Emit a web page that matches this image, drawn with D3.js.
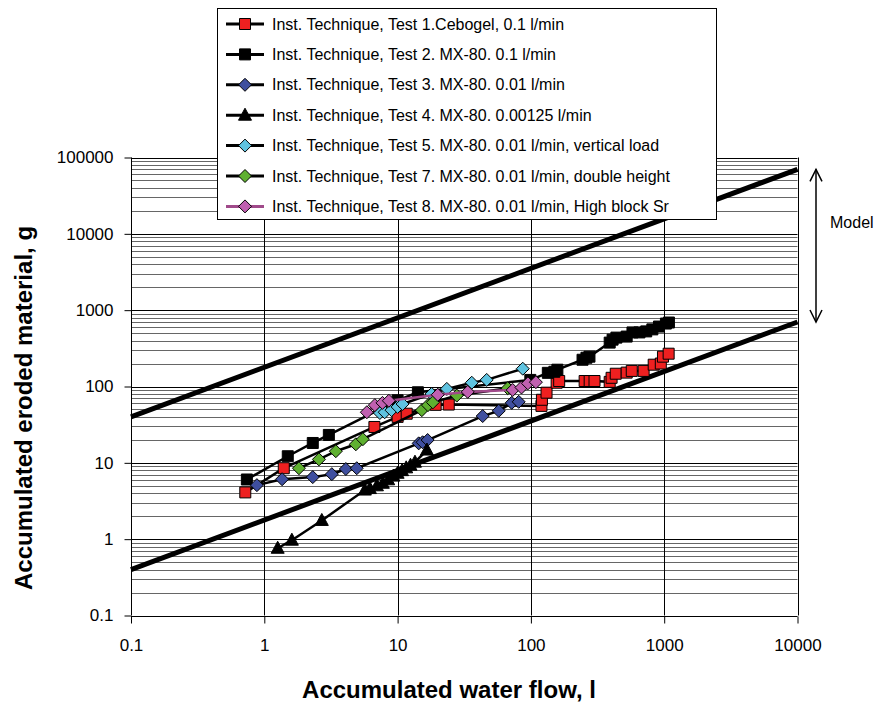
<!DOCTYPE html>
<html>
<head>
<meta charset="utf-8">
<script src="https://cdn.jsdelivr.net/npm/d3@7"></script>
<style>
body { margin: 0; background: #fff; }
text { font-family: "Liberation Sans", Arial, sans-serif; }
</style>
</head>
<body>
<div id="chart"></div>
<script>
// data
var xTicks = [0.1, 1, 10, 100, 1000, 10000];
var yTicks = [0.1, 1, 10, 100, 1000, 10000, 100000];

var modelX = [0.1, 10000];
var modelUpper = [40, 70000];
var modelLower = [0.4, 700];

var t1x = [0.72, 1.4, 6.7, 10, 11.7, 19.3, 24.2, 120, 121, 131, 156, 163, 253, 276, 300, 390, 403, 433, 523, 571, 701, 834, 943, 979, 1080];
var t1y = [4.1, 8.5, 29.5, 40, 44, 57.5, 58, 55.7, 67, 83, 112, 118, 118, 118, 118, 115, 130, 147, 152, 160, 160, 193, 200, 246, 269];

var t2x = [0.74, 1.5, 2.31, 3.05, 10, 14.2, 99, 134, 150, 158, 244, 261, 275, 390, 410, 438, 523, 578, 652, 733, 815, 914, 1030, 1085];
var t2y = [6.05, 12.2, 18.2, 23.2, 66, 84, 122, 151, 156, 166, 224, 238, 246, 376, 411, 437, 451, 511, 511, 527, 560, 610, 668, 689];

var t3x = [0.88, 1.36, 2.31, 3.21, 4.09, 4.94, 14.4, 15.4, 16.8, 43.5, 57.4, 71.8, 81];
var t3y = [5.1, 6.1, 6.5, 7.1, 8.3, 8.5, 18, 18.6, 19.9, 41, 48, 61, 63];

var t4x = [1.26, 1.61, 2.7, 5.68, 6.2, 7.0, 7.75, 8.5, 9.3, 10, 10.8, 11.6, 12.5, 13.5, 16.6];
var t4y = [0.76, 0.97, 1.76, 4.4, 4.6, 5.0, 5.4, 6.0, 6.7, 7.3, 7.9, 8.6, 9.3, 10.2, 14.7];

var t5x = [7.36, 8, 9, 10, 10.9, 18, 23.4, 36, 46.6, 86.9];
var t5y = [45, 46, 49, 54, 59, 80, 93, 112, 122, 171];

var t7x = [1.82, 2.57, 3.44, 4.86, 5.49, 15.2, 16.9, 18.4, 27.8, 67];
var t7y = [8.5, 11.1, 14.2, 17.5, 20.4, 49, 57, 62, 76, 95];

var t8x = [5.88, 6.75, 7.7, 8.6, 20, 33.6, 73, 85, 95, 109];
var t8y = [46, 57, 61, 65, 78, 85, 90, 97, 110, 114];

var seriesNames = [
    "Inst. Technique, Test 1.Cebogel, 0.1 l/min",
    "Inst. Technique, Test 2. MX-80. 0.1 l/min",
    "Inst. Technique, Test 3. MX-80. 0.01 l/min",
    "Inst. Technique, Test 4. MX-80. 0.00125 l/min",
    "Inst. Technique, Test 5. MX-80. 0.01 l/min, vertical load",
    "Inst. Technique, Test 7. MX-80. 0.01 l/min, double height",
    "Inst. Technique, Test 8. MX-80. 0.01 l/min, High block Sr"
];

var series = [
    {x: t1x, y: t1y, shape: 'square', fill: '#ee2020', line: '#000'},
    {x: t2x, y: t2y, shape: 'square', fill: '#000', line: '#000'},
    {x: t3x, y: t3y, shape: 'diamond', fill: '#3f4f9f', line: '#000'},
    {x: t4x, y: t4y, shape: 'triangle', fill: '#000', line: '#000'},
    {x: t5x, y: t5y, shape: 'diamond', fill: '#5fc3e0', line: '#000'},
    {x: t7x, y: t7y, shape: 'diamond', fill: '#5fb030', line: '#000'},
    {x: t8x, y: t8y, shape: 'diamond', fill: '#c060b0', line: '#a04a8a'}
];

var W = 879, H = 702;
var svg = d3.select("#chart").append("svg").attr("width", W).attr("height", H);

var xScale = d3.scaleLog().domain([0.1, 10000]).range([131, 797.5]);
var yScale = d3.scaleLog().domain([0.1, 100000]).range([615.5, 157.5]);

// **** grid ****
var minorY = [];
yTicks.slice(0, -1).forEach(function(d){
    for (var k = 2; k <= 9; k++) minorY.push(d * k);
});

var grid = svg.append('g');
grid.selectAll('.minor').data(minorY).enter().append('line')
    .attr('x1', xScale(0.1)).attr('x2', xScale(10000))
    .attr('y1', function(d){ return Math.round(yScale(d)) + 0.5; })
    .attr('y2', function(d){ return Math.round(yScale(d)) + 0.5; })
    .attr('stroke', '#666').attr('stroke-width', 1);

grid.selectAll('.major').data(yTicks).enter().append('line')
    .attr('x1', xScale(0.1)).attr('x2', xScale(10000))
    .attr('y1', function(d){ return Math.round(yScale(d)) + 0.5; })
    .attr('y2', function(d){ return Math.round(yScale(d)) + 0.5; })
    .attr('stroke', '#000').attr('stroke-width', 1);

grid.selectAll('.vmajor').data(xTicks).enter().append('line')
    .attr('x1', function(d){ return Math.round(xScale(d)) + 0.5; })
    .attr('x2', function(d){ return Math.round(xScale(d)) + 0.5; })
    .attr('y1', yScale(100000)).attr('y2', yScale(0.1))
    .attr('stroke', '#000').attr('stroke-width', 1);

// **** axes ****
svg.append('g')
    .attr('transform', 'translate(0,' + (Math.round(yScale(0.1)) + 0.5) + ')')
    .call(d3.axisBottom(xScale).tickValues(xTicks).tickSize(7).tickPadding(15)
        .tickFormat(function(d){ return String(d); }))
    .call(function(g){
        g.select('.domain').remove();
        g.selectAll('text').attr('font-size', 17).attr('font-family', '"Liberation Sans", Arial, sans-serif').attr('fill', '#000');
    });

svg.append('g')
    .attr('transform', 'translate(' + (Math.round(xScale(0.1)) + 0.5) + ',0)')
    .call(d3.axisLeft(yScale).tickValues(yTicks).tickSize(7).tickPadding(11)
        .tickFormat(function(d){ return String(d); }))
    .call(function(g){
        g.select('.domain').remove();
        g.selectAll('text').attr('font-size', 17).attr('font-family', '"Liberation Sans", Arial, sans-serif').attr('fill', '#000');
    });

svg.append('text')
    .attr('transform', 'translate(32,408) rotate(-90)')
    .attr('text-anchor', 'middle')
    .attr('font-size', 24).attr('font-weight', 'bold')
    .text('Accumulated eroded material, g');

svg.append('text')
    .attr('x', 449).attr('y', 698)
    .attr('text-anchor', 'middle')
    .attr('font-size', 24).attr('font-weight', 'bold')
    .text('Accumulated water flow, l');

// **** model lines ****
var modelLine = d3.line()
    .x(function(d){ return xScale(d[0]); })
    .y(function(d){ return yScale(d[1]); });

[modelUpper, modelLower].forEach(function(m){
    svg.append('path')
        .attr('d', modelLine(d3.zip(modelX, m)))
        .attr('fill', 'none').attr('stroke', '#000').attr('stroke-width', 5);
});

// **** series ****
function markerPath(shape) {
    if (shape == 'square') return 'M-5.5,-5.5H5.5V5.5H-5.5Z';
    if (shape == 'diamond') return 'M0,-6.5L6.5,0L0,6.5L-6.5,0Z';
    return 'M0,-7L6.5,5L-6.5,5Z';
}

var dataLine = d3.line()
    .x(function(d){ return xScale(d[0]); })
    .y(function(d){ return yScale(d[1]); });

series.forEach(function(s){
    var pts = d3.zip(s.x, s.y);
    var g = svg.append('g');
    g.append('path')
        .attr('d', dataLine(pts))
        .attr('fill', 'none').attr('stroke', s.line).attr('stroke-width', 2.5);
    g.selectAll('path.mk').data(pts).enter().append('path')
        .attr('class', 'mk')
        .attr('d', markerPath(s.shape))
        .attr('transform', function(d){ return 'translate(' + xScale(d[0]) + ',' + yScale(d[1]) + ')'; })
        .attr('fill', s.fill)
        .attr('stroke', '#000').attr('stroke-width', 1);
});

// **** legend ****
var legend = svg.append('g');
legend.append('rect')
    .attr('x', 217.5).attr('y', 8.5)
    .attr('width', 499).attr('height', 211)
    .attr('fill', '#fff').attr('stroke', '#000').attr('stroke-width', 1);

seriesNames.forEach(function(name, i){
    var s = series[i];
    var cy = 24 + i * 30.4;
    legend.append('line')
        .attr('x1', 226).attr('x2', 264).attr('y1', cy).attr('y2', cy)
        .attr('stroke', s.line).attr('stroke-width', 3);
    legend.append('path')
        .attr('d', markerPath(s.shape))
        .attr('transform', 'translate(245,' + cy + ')')
        .attr('fill', s.fill).attr('stroke', '#000').attr('stroke-width', 1);
    legend.append('text')
        .attr('x', 272).attr('y', cy + 5.5)
        .attr('font-size', 16)
        .text(name);
});

// **** model arrow ****
var ax = 816, ay1 = yScale(70000), ay2 = yScale(700);
svg.append('line').attr('x1', ax).attr('x2', ax).attr('y1', ay1).attr('y2', ay2)
    .attr('stroke', '#000').attr('stroke-width', 1.5);
svg.append('path')
    .attr('d', 'M' + (ax - 6) + ',' + (ay1 + 12) + 'L' + ax + ',' + ay1 + 'L' + (ax + 6) + ',' + (ay1 + 12))
    .attr('fill', 'none').attr('stroke', '#000').attr('stroke-width', 1.5);
svg.append('path')
    .attr('d', 'M' + (ax - 6) + ',' + (ay2 - 12) + 'L' + ax + ',' + ay2 + 'L' + (ax + 6) + ',' + (ay2 - 12))
    .attr('fill', 'none').attr('stroke', '#000').attr('stroke-width', 1.5);
svg.append('text')
    .attr('x', 830).attr('y', 228)
    .attr('font-size', 16)
    .text('Model');
</script>
</body>
</html>
